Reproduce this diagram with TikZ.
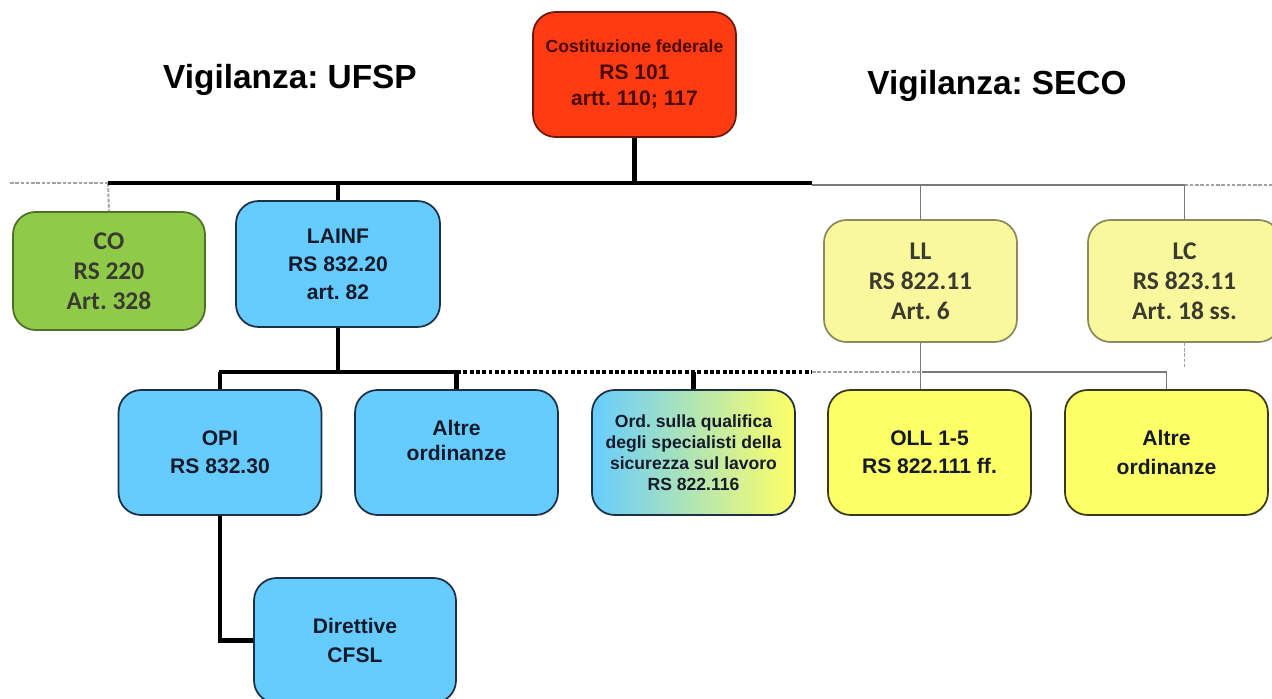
\documentclass[tikz,border=0pt]{standalone}
\usepackage{fontspec}
\setmainfont{Liberation Sans}
\newfontfamily\calfont{Carlito}
\usetikzlibrary{calc}

\definecolor{bluefill}{HTML}{66CCFF}
\definecolor{blueedge}{HTML}{1E3046}
\definecolor{redfill}{HTML}{FF3B14}
\definecolor{rededge}{HTML}{6A1A0A}
\definecolor{redtext}{HTML}{4A0A00}
\definecolor{greenfill}{HTML}{8FCB48}
\definecolor{greenedge}{HTML}{4E6E2C}
\definecolor{paleyellow}{HTML}{FAF89C}
\definecolor{paleedge}{HTML}{8C8A60}
\definecolor{yellowfill}{HTML}{FFFF66}
\definecolor{yellowedge}{HTML}{3A3A1A}
\definecolor{darktext}{HTML}{141A2A}
\definecolor{caltext}{HTML}{3A3A30}
\definecolor{linegray}{HTML}{7A7A7A}

\tikzset{
  box/.style={draw=blueedge,line width=1pt,rounded corners=0.45cm,align=center,
    minimum width=4.06cm,minimum height=2.5cm,text=darktext,
    font=\fontsize{12}{16}\selectfont\bfseries},
  bluebox/.style={box,fill=bluefill},
  yellowbox/.style={box,fill=yellowfill,draw=yellowedge},
  palebox/.style={box,fill=paleyellow,draw=paleedge,text=caltext,
    minimum width=3.86cm,minimum height=2.44cm,
    font=\calfont\fontsize{14.5}{17}\selectfont\bfseries},
  trunk/.style={line width=2.6pt,black},
  dotbus/.style={line width=2.6pt,black,dash pattern=on 2.2pt off 1.4pt},
  grayline/.style={line width=1.1pt,linegray},
  graydash/.style={line width=1.1pt,linegray!70,dash pattern=on 2pt off 1pt},
  title/.style={font=\fontsize{19}{22}\selectfont\bfseries}
}

\begin{document}
\frenchspacing
\begin{tikzpicture}[x=0.02cm,y=-0.02cm]
\useasboundingbox (0,0) rectangle (1272,699);

% titoli
\node[title] (tufsp) at (290,80) {Vigilanza: UFSP};
\node[title] (tseco) at (997,86) {Vigilanza: SECO};

% livello 0
\node[box,fill=redfill,draw=rededge,text=redtext,minimum height=2.5cm,
  font=\fontsize{12}{15}\selectfont\bfseries] (cost) at (634.5,74.5)
  {{\fontsize{10}{15}\selectfont Costituzione federale}\\RS 101\\artt. 110; 117};

% livello 1
\node[palebox,fill=greenfill,draw=greenedge,minimum width=3.84cm,minimum height=2.36cm]
  (co) at (109,271) {CO\\RS 220\\Art. 328};
\node[bluebox,minimum width=4.08cm,minimum height=2.52cm] (lainf) at (338,264)
  {LAINF\\RS 832.20\\art. 82};
\node[palebox] (ll) at (920.5,281) {LL\\RS 822.11\\Art. 6};
\node[palebox] (lc) at (1184.5,281) {LC\\RS 823.11\\Art. 18 ss.};

% livello 2
\node[bluebox] (opi) at (220,452.5) {OPI\\RS 832.30};
\node[bluebox] (altreb) at (456.5,452.5)
  {\raisebox{0.1cm}[0pt][0pt]{\begin{tabular}{@{}c@{}}Altre\\[-2pt]ordinanze\end{tabular}}};
\node[box,left color=bluefill,right color=yellowfill,
  font=\fontsize{10}{12}\selectfont\bfseries] (ord) at (693.5,452.5)
  {Ord. sulla qualifica\\degli specialisti della\\sicurezza sul lavoro\\RS 822.116};
\node[yellowbox] (oll) at (929.5,452.5) {OLL 1-5\\RS 822.111 ff.};
\node[yellowbox] (altrey) at (1166.5,452.5) {Altre\\ordinanze};

% livello 3
\node[bluebox,minimum width=4.04cm] (dir) at (355,640.5) {Direttive\\CFSL};

% nodi di raccordo
\coordinate (busA) at (108,183);
\coordinate (busB) at (812,183);
\coordinate (busC) at (812,185);
\coordinate (busCend) at (1272,185);
\coordinate (busL) at (10,183);
\coordinate (busD) at (219,372);
\coordinate (busE) at (457,372);
\coordinate (busF) at (812,372);
\coordinate (busG) at (922,372);

% collegamenti UFSP
\draw[graydash] (busL) -- (busA);
\draw[graydash] (busA) -- (co.north);
\draw[trunk] (busA) -- (busB);
\draw[trunk] (cost.south) -- (cost.south |- busA);
\draw[trunk] (lainf.north) -- (lainf.north |- busA);
\draw[trunk] (lainf.south) -- (lainf.south |- busD);
\draw[trunk] (busD) -- (busE);
\draw[trunk] (opi.north) -- (opi.north |- busD);
\draw[trunk] (altreb.north) -- (altreb.north |- busE);
\draw[dotbus] (busE) -- (busF);
\draw[trunk] (ord.north) -- (ord.north |- busF);
\draw[trunk] (opi.south) |- (dir.west);

% collegamenti SECO
\draw[grayline] (busC) -- (lc.north |- busC);
\draw[graydash] (lc.north |- busC) -- (busCend);
\draw[grayline] (ll.north) -- (ll.north |- busC);
\draw[grayline] (lc.north) -- (lc.north |- busC);
\draw[graydash] (busF) -- (busG);
\draw[grayline] (busG) -| (altrey.north);
\draw[grayline] (ll.south) -- (ll.south |- oll.north);
\draw[graydash] (lc.south) -- ++(0,26);
\end{tikzpicture}
\end{document}
